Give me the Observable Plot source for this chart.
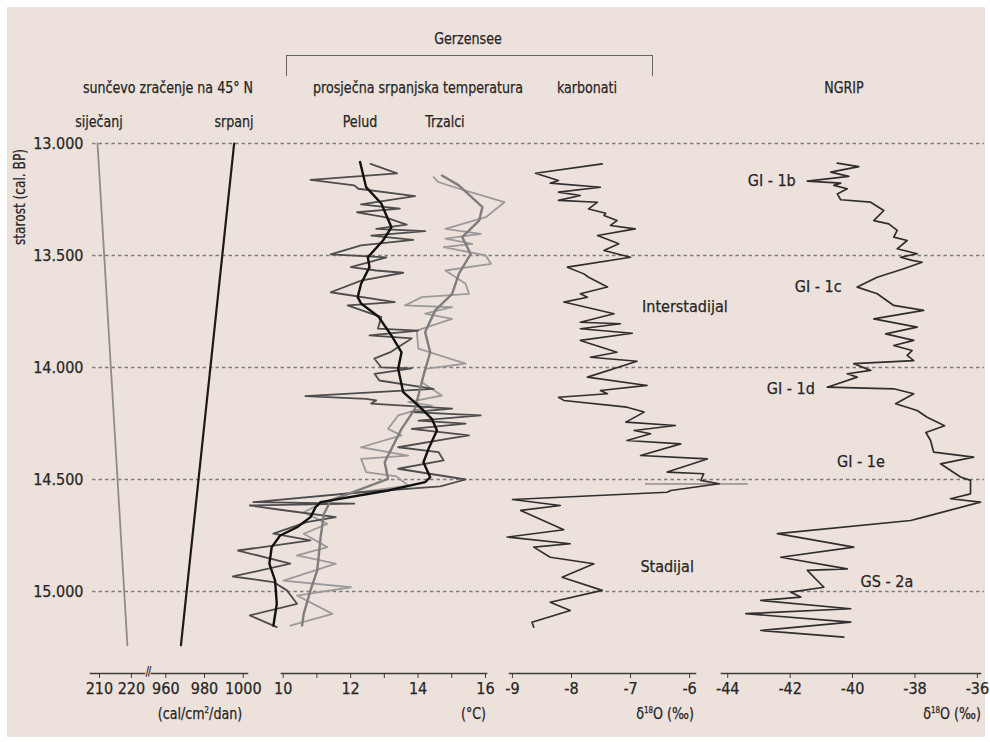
<!DOCTYPE html>
<html><head><meta charset="utf-8">
<script src="https://cdn.jsdelivr.net/npm/d3@7"></script>
<script src="https://cdn.jsdelivr.net/npm/@observablehq/plot@0.6"></script>
<style>
body{margin:0;background:#fff;}
#chart{position:relative;width:990px;height:742px;overflow:hidden;font-family:"Liberation Sans Narrow","DejaVu Sans Condensed","Arial Narrow",sans-serif;color:#262626;}
#bg{position:absolute;left:7px;top:7px;width:978px;height:730px;background:#ede1db;}
.lbl{position:absolute;font-size:16px;white-space:nowrap;transform:translate(-50%,-50%) scaleX(0.88);line-height:1;-webkit-text-stroke:0.25px #262626;}
.rl{position:absolute;font-size:16px;white-space:nowrap;transform:translate(-100%,-50%) scaleX(0.88);transform-origin:right center;line-height:1;-webkit-text-stroke:0.25px #262626;}
sup{font-size:9px;vertical-align:6px;}
#br{position:absolute;left:286px;top:55px;width:365px;height:20px;border:1.4px solid #666;border-bottom:none;}
svg text{stroke:#262626;stroke-width:0.25px;}
</style></head><body>
<div id="chart"><div id="bg"></div><div id="br"></div></div>
<script>
// ---------- data ----------
const ageTicks = [13000, 13500, 14000, 14500, 15000];
// insolation at 45°N [age, value]
const january = [[13000, 209.4], [15240, 218.75]];
const july = [[13000, 995.3], [15240, 967.8]];
// Gerzensee July temperature [age, °C]
const pollenRaw = [[13091,12.59],[13133,13.38],[13162,10.81],[13187,12.11],[13202,12.23],[13235,13.91],[13272,12.31],[13291,13.46],[13307,12.19],[13329,13.01],[13362,13.66],[13381,12.76],[13391,14.21],[13411,12.61],[13430,13.86],[13455,12.31],[13495,11.41],[13508,13.06],[13552,12.01],[13567,12.76],[13577,13.56],[13612,12.31],[13664,11.41],[13708,13.31],[13723,11.91],[13775,12.91],[13826,12.81],[13835,14.01],[13857,12.56],[13870,13.81],[13930,13.2],[13960,12.7],[13999,12.91],[14004,13.81],[14028,12.71],[14058,12.85],[14095,14.46],[14128,10.66],[14140,12.46],[14147,12.76],[14161,12.61],[14184,15.01],[14199,13.81],[14214,15.86],[14237,14.01],[14251,15.41],[14274,13.81],[14303,15.51],[14318,14.91],[14356,13.41],[14378,14.61],[14415,14.76],[14452,13.41],[14500,15.41],[14531,14.66],[14557,12.31],[14601,9.11],[14608,12.11],[14616,9.01],[14635,9.91],[14668,11.56],[14690,10.7],[14742,9.71],[14772,10.81],[14817,8.66],[14876,10.21],[14933,8.51],[14958,9.71],[14995,10.11],[15055,10.41],[15107,9.01],[15159,9.81]];
const pollenSmooth = [[13083,12.28],[13195,12.46],[13268,12.91],[13374,13.21],[13433,12.96],[13508,12.51],[13552,12.56],[13626,12.31],[13686,12.21],[13714,12.31],[13772,12.82],[13857,13.21],[13932,13.51],[14006,13.41],[14110,13.56],[14170,14.01],[14229,14.41],[14281,14.56],[14363,14.31],[14423,14.16],[14490,14.36],[14512,14.21],[14549,13.11],[14601,11.11],[14624,10.96],[14668,10.81],[14713,10.41],[14750,9.91],[14802,9.66],[14876,9.59],[14951,9.76],[15055,9.81],[15152,9.71]];
const chironomidRaw = [[13150,14.46],[13173,14.61],[13210,15.41],[13262,16.56],[13329,16.01],[13381,14.81],[13403,15.86],[13425,14.81],[13448,15.61],[13463,14.76],[13500,16.01],[13537,16.16],[13567,14.81],[13626,15.41],[13671,15.51],[13686,14.11],[13723,13.61],[13731,15.01],[13760,14.21],[13783,15.01],[13835,13.96],[13916,14.01],[13983,15.41],[14006,14.21],[14066,14.11],[14125,14.71],[14155,13.71],[14170,14.41],[14214,13.41],[14274,13.11],[14303,13.51],[14356,12.31],[14393,13.71],[14408,12.31],[14467,12.46],[14486,13.36],[14527,13.71],[14564,11.91],[14608,11.11],[14646,10.61],[14698,11.31],[14742,10.61],[14802,11.31],[14839,10.41],[14876,11.56],[14951,10.01],[14981,12.01],[15018,10.41],[15100,11.46],[15152,10.21]];
const chironomidSmooth = [[13143,14.71],[13187,15.21],[13284,15.91],[13344,15.81],[13418,15.31],[13493,15.56],[13582,15.21],[13671,15.01],[13745,14.51],[13842,14.21],[13932,14.36],[14036,14.16],[14184,13.91],[14274,13.51],[14423,13.01],[14497,13.11],[14594,11.41],[14653,11.21],[14757,11.11],[14906,11.01],[14995,10.81],[15099,10.61],[15152,10.56]];
// Gerzensee carbonate δ18O [age, ‰]
const carbonate = [[13091,-7.48],[13133,-8.61],[13165,-8.22],[13177,-8.36],[13195,-7.51],[13217,-8.22],[13232,-7.85],[13254,-8.22],[13262,-7.56],[13292,-7.71],[13311,-7.42],[13321,-7.45],[13344,-7.23],[13366,-7.34],[13381,-6.92],[13411,-7.56],[13433,-7.34],[13448,-7.20],[13478,-7.45],[13508,-7.00],[13552,-8.07],[13582,-7.79],[13597,-7.71],[13641,-7.39],[13671,-7.85],[13686,-7.73],[13708,-8.13],[13760,-7.28],[13798,-7.85],[13805,-7.17],[13827,-7.85],[13847,-6.97],[13879,-7.85],[13932,-7.23],[13954,-7.68],[13972,-6.89],[14043,-7.73],[14080,-6.72],[14103,-7.51],[14117,-7.39],[14133,-8.22],[14147,-8.13],[14177,-7.06],[14199,-6.77],[14244,-7.08],[14259,-6.24],[14281,-6.94],[14296,-6.66],[14326,-7.06],[14341,-6.15],[14393,-6.83],[14408,-5.70],[14467,-6.38],[14474,-5.76],[14504,-5.81],[14519,-5.50],[14549,-6.32],[14557,-6.38],[14589,-9.00],[14616,-8.19],[14638,-8.86],[14724,-8.13],[14757,-9.09],[14787,-8.02],[14802,-8.64],[14847,-8.36],[14876,-7.62],[14936,-8.16],[14995,-7.48],[15048,-8.36],[15085,-8.02],[15137,-8.67],[15159,-8.64]];
const carbonateMarker = [[14520,-6.75],[14520,-5.02]];
const carbonateLabels = [["Interstadijal",13731,-6.08],["Stadijal",14891,-6.38]];
// NGRIP δ18O [age, ‰]
const ngrip = [[13088,-40.49],[13103,-39.80],[13128,-40.70],[13147,-40.12],[13168,-41.45],[13177,-40.38],[13187,-40.60],[13202,-40.17],[13225,-40.49],[13251,-40.38],[13262,-39.42],[13299,-39.00],[13344,-39.32],[13359,-38.84],[13388,-38.57],[13418,-38.68],[13433,-38.25],[13470,-38.57],[13492,-37.93],[13508,-38.46],[13522,-38.09],[13530,-37.77],[13559,-38.36],[13597,-39.21],[13641,-39.85],[13671,-39.21],[13723,-38.68],[13745,-37.72],[13783,-39.32],[13820,-37.93],[13850,-38.94],[13879,-38.04],[13902,-38.68],[13924,-38.09],[13946,-38.25],[13969,-38.04],[13983,-39.96],[14013,-39.42],[14028,-40.17],[14043,-39.85],[14088,-40.81],[14095,-38.68],[14117,-38.04],[14162,-38.62],[14192,-37.93],[14222,-37.61],[14260,-37.05],[14290,-37.65],[14326,-37.50],[14378,-37.40],[14400,-36.12],[14430,-37.18],[14489,-36.54],[14504,-36.22],[14564,-36.22],[14586,-36.86],[14601,-35.90],[14668,-37.72],[14683,-38.14],[14742,-42.41],[14802,-39.96],[14847,-42.30],[14899,-40.17],[14906,-41.45],[14981,-40.92],[15003,-41.98],[15025,-41.66],[15040,-42.94],[15077,-40.06],[15099,-43.42],[15137,-40.06],[15174,-42.94],[15204,-40.28]];
const ngripLabels = [["GI - 1b",13165,-42.59],["GI - 1c",13641,-41.10],["GI - 1d",14094,-41.98],["GI - 1e",14423,-39.73],["GS - 2a",14958,-38.90]];

// ---------- layout ----------
const FONT = '"Liberation Sans Narrow","DejaVu Sans Condensed","Arial Narrow",sans-serif';
const H = 742, AXIS_Y = 673;
const yOpts = {domain: [13000, 15250], range: [143, 647], axis: null};
const chart = document.getElementById("chart");
const fmtAge = d3.formatLocale({decimal: ",", thousands: ".", grouping: [3], currency: ["", ""]}).format(",");
const fmtNum = d => String(d);
const STYLE = {background: "transparent", fontFamily: FONT, fontSize: "16px", color: "#262626"};

function place(svg, left) {
  svg.style.position = "absolute";
  svg.style.left = left + "px";
  svg.style.top = "0px";
  svg.style.overflow = "visible";
  chart.appendChild(svg);
}

// background: age axis + dashed guides
place(Plot.plot({
  width: 990, height: H,
  marginLeft: 92, marginRight: 6, marginTop: 0, marginBottom: H - AXIS_Y,
  y: {domain: yOpts.domain, range: yOpts.range},
  style: STYLE,
  marks: [
    Plot.ruleY(ageTicks, {stroke: "#7c7c7c", strokeWidth: 1.3, strokeDasharray: "3.5,3"}),
    Plot.axisY({ticks: ageTicks, tickSize: 0, tickPadding: 9, tickFormat: fmtAge, label: null, fontSize: 16})
  ]
}), 0);

function panel(left, width, domain, tickMarks, tickLabels, marks) {
  place(Plot.plot({
    width, height: H,
    marginLeft: 0, marginRight: 0, marginTop: 0, marginBottom: H - AXIS_Y,
    x: {domain},
    y: yOpts,
    style: STYLE,
    marks: [
      Plot.frame({anchor: "bottom", stroke: "#3c3c3c", strokeWidth: 1.6}),
      Plot.axisX({ticks: tickMarks, tickSize: 5, tickFormat: () => "", label: null, stroke: "#3c3c3c"}),
      Plot.axisX({ticks: tickLabels, tickSize: 0, tickPadding: 9, tickFormat: fmtNum, label: null, fontSize: 16}),
      ...marks
    ]
  }), left);
}
const L = (data, o) => Plot.line(data, {x: d => d[1], y: d => d[0], ...o});

// insolation (broken axis)
panel(90, 54, [207.2, 224.1], [210, 220], [210, 220], [L(january, {stroke: "#8c8c8c", strokeWidth: 1.8})]);
panel(151, 96, [952.6, 1002.2], [960, 980, 1000], [960, 980, 1000], [L(july, {stroke: "#1a1a1a", strokeWidth: 2.2})]);
// temperature
panel(281, 205, [9.95, 16.03], [10, 11, 12, 13, 14, 15, 16], [10, 12, 14, 16], [
  L(chironomidRaw, {stroke: "#9b9b9b", strokeWidth: 1.8}),
  L(pollenRaw, {stroke: "#4d4d4d", strokeWidth: 1.8}),
  L(chironomidSmooth, {stroke: "#7e7e7e", strokeWidth: 2.4}),
  L(pollenSmooth, {stroke: "#111", strokeWidth: 2.4})
]);
// carbonates
panel(509, 186, [-9.05, -5.9], [-9, -8, -7, -6], [-9, -8, -7, -6], [
  L(carbonateMarker, {stroke: "#555", strokeWidth: 0.9}),
  L(carbonate, {stroke: "#2e2e2e", strokeWidth: 1.6}),
  Plot.text(carbonateLabels, {x: d => d[2], y: d => d[1], text: d => d[0], fontSize: 16, fill: "#262626"})
]);
// NGRIP
panel(721, 259, [-44.2, -35.9], [-44, -42, -40, -38, -36], [-44, -42, -40, -38, -36], [
  L(ngrip, {stroke: "#2e2e2e", strokeWidth: 1.7}),
  Plot.text(ngripLabels, {x: d => d[2], y: d => d[1], text: d => d[0], fontSize: 16, fill: "#262626"})
]);

// ---------- text ----------
const labels = [
  ["Gerzensee", 468, 39, "lbl"],
  ["sunčevo zračenje na 45° N", 168, 88, "lbl"],
  ["prosječna srpanjska temperatura", 418, 88, "lbl"],
  ["karbonati", 587, 88, "lbl"],
  ["NGRIP", 844, 88, "lbl"],
  ["siječanj", 99, 122, "lbl"],
  ["srpanj", 234, 122, "lbl"],
  ["Pelud", 360, 122, "lbl"],
  ["Trzalci", 445, 122, "lbl"],
  ["(cal/cm<sup>2</sup>/dan)", 200, 714, "lbl"],
  ["(°C)", 486, 714, "rl"],
  ["δ<sup>18</sup>O (‰)", 694, 714, "rl"],
  ["δ<sup>18</sup>O (‰)", 981, 714, "rl"],
  ["//", 147.5, 671, "lbl"]
];
for (const [t, x, y, c] of labels) {
  const d = document.createElement("div");
  d.className = c; d.innerHTML = t;
  d.style.left = x + "px"; d.style.top = y + "px";
  if (t === "//") { d.style.fontSize = "12px"; d.style.letterSpacing = "-1px"; }
  chart.appendChild(d);
}
const yl = document.createElement("div");
yl.className = "lbl"; yl.textContent = "starost (cal. BP)";
yl.style.left = "20px"; yl.style.top = "197px"; yl.style.fontSize = "15px";
yl.style.transform = "translate(-50%,-50%) rotate(-90deg) scaleX(0.9)";
chart.appendChild(yl);
</script>
</body></html>
